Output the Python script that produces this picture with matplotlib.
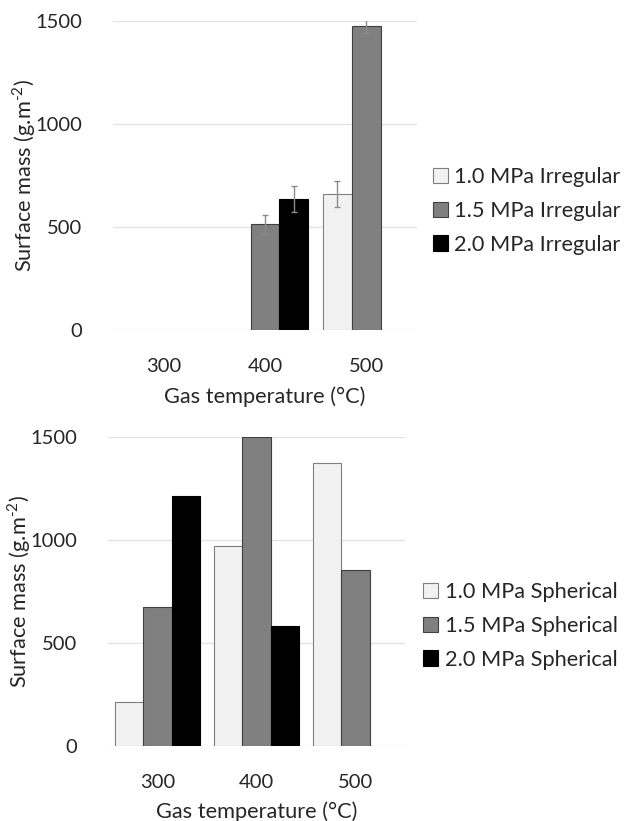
### Bibliotecas ###
import numpy as np
import matplotlib.pyplot as plt

### Dados ###
temperaturas = ['300', '400', '500']
rotulos_irr = ['1.0 MPa Irregular', '1.5 MPa Irregular', '2.0 MPa Irregular']
rotulos_esf = ['1.0 MPa Spherical', '1.5 MPa Spherical', '2.0 MPa Spherical']

# Irregular (nan = sem barra)
irr_10 = [np.nan, np.nan, 658]
irr_15 = [np.nan, 512, 1474]
irr_20 = [np.nan, 637, np.nan]
err_10 = [0, 0, 63]
err_15 = [0, 47, 35]
err_20 = [0, 63, 0]

# Spherical
esf_10 = [212, 971, 1371]
esf_15 = [674, 1497, 852]
esf_20 = [1214, 583, np.nan]

cores = ['#f2f2f2', '#808080', '#000000']
bordas = ['#7f7f7f', '#404040', '#000000']

plt.rcParams['font.family'] = ['Lato', 'DejaVu Sans']
plt.rcParams['mathtext.fontset'] = 'custom'
plt.rcParams['mathtext.rm'] = 'Lato'
tsize = 14.5
fsize = 15.7
xlab = 'Gas temperature (°C)'
ylab = r'Surface mass (g.m$^{\text{-2}}$)'

fig = plt.figure(figsize=(6.28, 8.21), dpi=100)
ax1 = fig.add_axes([0.180, 0.598, 0.484, 0.3767])
ax2 = fig.add_axes([0.172, 0.0914, 0.473, 0.3767])

largura = 0.285
x = np.arange(len(temperaturas))


def formata(ax, xy):
    ax.set_ylim(0, 1500)
    ax.set_xlim(-0.5, 2.5)
    ax.set_yticks([0, 500, 1000, 1500])
    ax.set_xticks(x)
    ax.set_xticklabels(temperaturas)
    ax.tick_params(length=0, labelsize=tsize, colors='#262626')
    ax.tick_params(axis='x', pad=20)
    ax.tick_params(axis='y', pad=22)
    for s in ax.spines.values():
        s.set_visible(False)
    ax.grid(axis='y', color='#e3e3e3', lw=1.0)
    ax.set_axisbelow(True)
    ax.set_xlabel(xlab, fontsize=fsize, color='#262626', labelpad=8)
    ax.set_ylabel(ylab, fontsize=fsize, color='#262626', va='center')
    ax.yaxis.set_label_coords(xy, 0.5)


### Gráfico de cima - Irregular ###
series = [irr_10, irr_15, irr_20]
erros = [err_10, err_15, err_20]
for k in range(3):
    ax1.bar(x + (k - 1) * largura, series[k], largura, color=cores[k],
            edgecolor=bordas[k], lw=0.8, label=rotulos_irr[k],
            yerr=erros[k], ecolor='#8c8c8c',
            error_kw=dict(lw=1.0, capsize=2.5, capthick=1.0))
formata(ax1, -0.293)
fig.legend(*ax1.get_legend_handles_labels(), loc='center left',
           bbox_to_anchor=(0.675, 1 - 211 / 821), frameon=False,
           fontsize=fsize, handlelength=0.7, handleheight=0.7,
           handletextpad=0.3, labelspacing=0.62, borderaxespad=0,
           labelcolor='#262626')

### Gráfico de baixo - Spherical ###
series = [esf_10, esf_15, esf_20]
for k in range(3):
    ax2.bar(x + (k - 1) * largura, series[k], largura, color=cores[k],
            edgecolor=bordas[k], lw=0.8, label=rotulos_esf[k])
formata(ax2, -0.300)
fig.legend(*ax2.get_legend_handles_labels(), loc='center left',
           bbox_to_anchor=(0.660, 1 - 626 / 821), frameon=False,
           fontsize=fsize, handlelength=0.7, handleheight=0.7,
           handletextpad=0.3, labelspacing=0.62, borderaxespad=0,
           labelcolor='#262626')

### Salvar figura ###
fig.savefig('out.png', dpi=100)
